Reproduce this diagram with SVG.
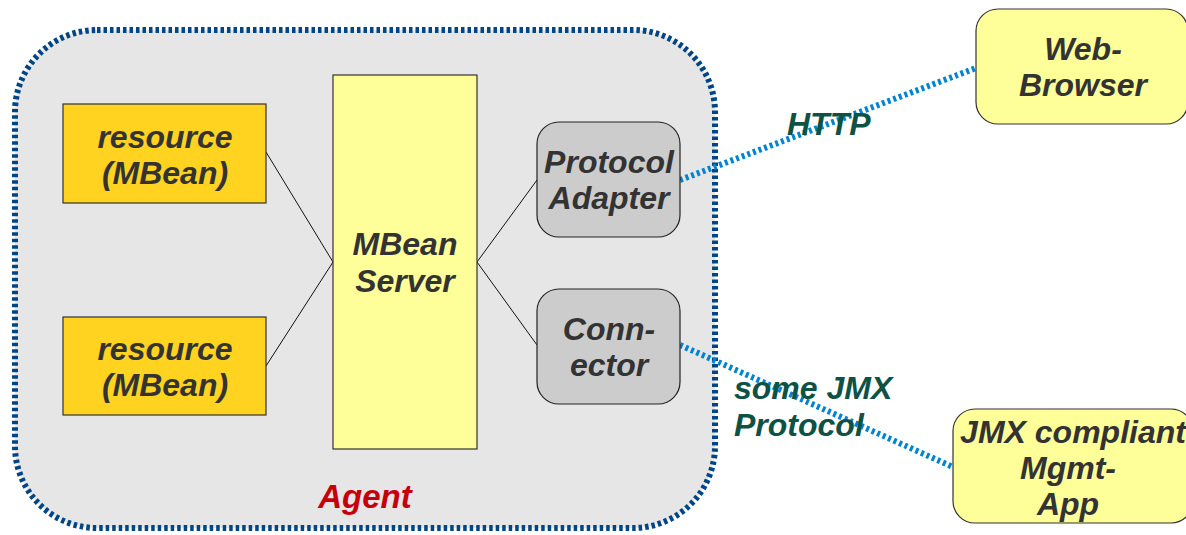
<svg xmlns="http://www.w3.org/2000/svg" width="1186" height="535" viewBox="0 0 1186 535">
<style>
.t{font-family:"Liberation Sans",Arial,sans-serif;font-weight:bold;font-style:italic;font-size:32px;fill:#333333;text-anchor:middle}
.lbl{font-family:"Liberation Sans",Arial,sans-serif;font-weight:bold;font-style:italic;font-size:32px;fill:#0d5244}
.res{fill:#ffd320;stroke:#333333;stroke-width:1.2}
.srv{fill:#ffff99;stroke:#333333;stroke-width:1.2}
.gry{fill:#cccccc;stroke:#222222;stroke-width:1.2}
.ext{fill:#ffff99;stroke:#333333;stroke-width:1.2}
.ln{stroke:#111111;stroke-width:1;fill:none}
.dot{stroke:#0084d1;stroke-width:6;stroke-dasharray:3 3;fill:none}
</style>
<g id="agent">
<rect x="15" y="30" width="700" height="498" rx="82" ry="82" fill="#e6e6e6" stroke="#004586" stroke-width="6" stroke-dasharray="3.5 3"/>
<text x="365" y="508" class="t" style="fill:#c5000b;font-size:33px">Agent</text>
</g>
<g id="connectors">
<line class="ln" x1="266" y1="152" x2="333" y2="262"/>
<line class="ln" x1="266" y1="366" x2="333" y2="262"/>
<line class="ln" x1="477" y1="262" x2="537" y2="180"/>
<line class="ln" x1="477" y1="262" x2="537" y2="345"/>
<line class="dot" x1="680" y1="180" x2="976" y2="68"/>
<line class="dot" x1="680" y1="345" x2="953" y2="467"/>
<text x="787" y="135" class="lbl">HTTP</text>
<text x="734" y="399" class="lbl">some JMX</text>
<text x="734" y="436" class="lbl">Protocol</text>
</g>
<g id="resource1">
<rect class="res" x="63" y="104" width="203" height="99"/>
<text class="t" x="165" y="148">resource</text>
<text class="t" x="165" y="184">(MBean)</text>
</g>
<g id="resource2">
<rect class="res" x="63" y="317" width="203" height="98"/>
<text class="t" x="165" y="360">resource</text>
<text class="t" x="165" y="396">(MBean)</text>
</g>
<g id="mbeanserver">
<rect class="srv" x="333" y="75" width="144" height="374"/>
<text class="t" x="405" y="255">MBean</text>
<text class="t" x="405" y="292">Server</text>
</g>
<g id="protocoladapter">
<rect class="gry" x="537" y="122" width="143" height="115" rx="22" ry="22"/>
<text class="t" x="609" y="173">Protocol</text>
<text class="t" x="609" y="209">Adapter</text>
</g>
<g id="connector">
<rect class="gry" x="537" y="289" width="143" height="115" rx="22" ry="22"/>
<text class="t" x="609" y="340">Conn-</text>
<text class="t" x="609" y="376">ector</text>
</g>
<g id="webbrowser">
<rect class="ext" x="976" y="9" width="212" height="115" rx="22" ry="22"/>
<text class="t" x="1083" y="60">Web-</text>
<text class="t" x="1083" y="96">Browser</text>
</g>
<g id="jmxapp">
<rect class="ext" x="953" y="409" width="240" height="114" rx="22" ry="22"/>
<text class="t" x="1073" y="443">JMX compliant</text>
<text class="t" x="1068" y="479">Mgmt-</text>
<text class="t" x="1068" y="515">App</text>
</g>
</svg>
